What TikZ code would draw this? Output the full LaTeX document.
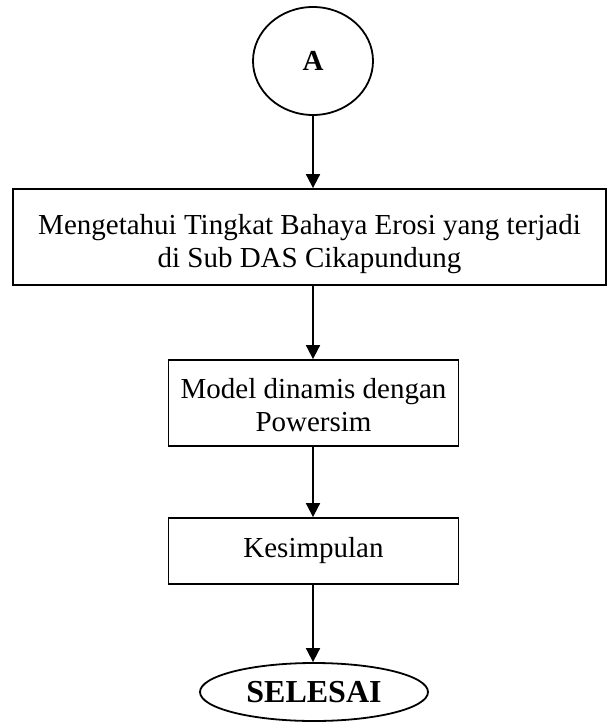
\documentclass[tikz,border=0pt]{standalone}
\usepackage{fontspec}
\setmainfont{Liberation Serif}
\usetikzlibrary{arrows.meta,shapes.geometric}
\newcommand{\lowtext}[2]{\raisebox{-#1}[0pt][0pt]{\begin{tabular}{@{}c@{}}#2\end{tabular}}}
\begin{document}
\begin{tikzpicture}[x=1pt,y=-1pt,
  every node/.style={font=\fontsize{29}{33}\selectfont},
  box/.style={draw,line width=1.8pt,inner sep=0pt,align=center},
  oval/.style={draw,ellipse,line width=1.8pt,inner sep=0pt},
  arr/.style={-{Triangle[length=14pt,width=14pt]},line width=1.8pt}]
\useasboundingbox (0,0) rectangle (608,722);
\node[oval,minimum width=120pt,minimum height=108pt] (a) at (313,61) {\textbf{A}};
\node[box,minimum width=593pt,minimum height=96pt] (b1) at (309.5,237)
  {\lowtext{14pt}{Mengetahui Tingkat Bahaya Erosi yang terjadi\\di Sub DAS Cikapundung}};
\node[box,minimum width=290pt,minimum height=86pt] (b2) at (313.5,403)
  {\lowtext{12pt}{Model dinamis dengan\\Powersim}};
\node[box,minimum width=290pt,minimum height=66pt] (b3) at (313.5,551) {Kesimpulan};
\node[oval,minimum width=228pt,minimum height=58pt,font=\fontsize{32}{36}\selectfont\bfseries] (e) at (314,692) {SELESAI};
\draw[arr] (a.south) -- (a.south |- b1.north);
\draw[arr] (a.south |- b1.south) -- (a.south |- b2.north);
\draw[arr] (a.south |- b2.south) -- (a.south |- b3.north);
\draw[arr] (a.south |- b3.south) -- (a.south |- e.north);
\end{tikzpicture}
\end{document}
